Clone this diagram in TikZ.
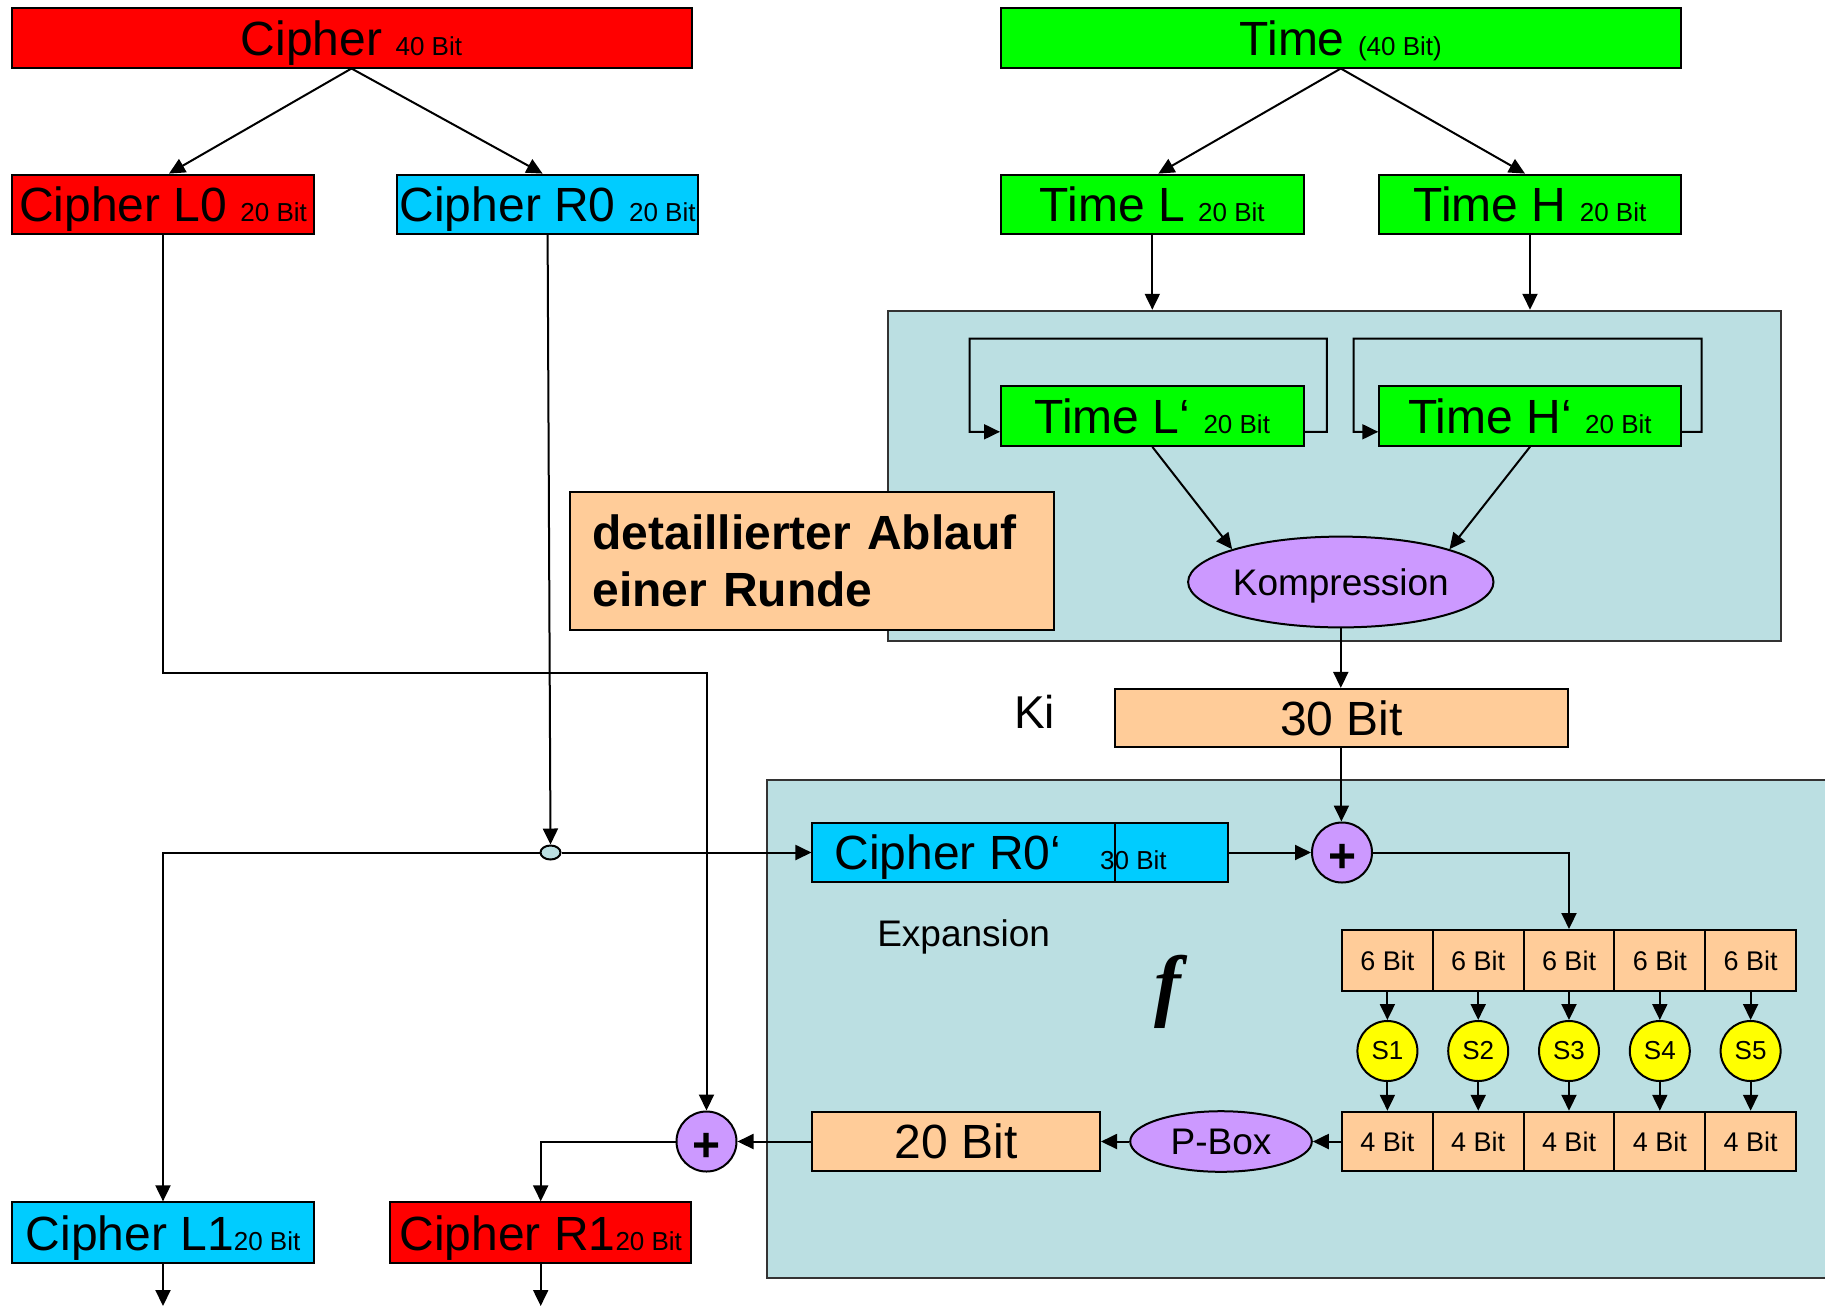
\documentclass[tikz,border=0pt]{standalone}
\usepackage{fontspec}
\setmainfont{Liberation Sans}
\newfontfamily\serifbi{Liberation Serif}
\usetikzlibrary{arrows.meta,shapes.geometric}
\definecolor{cred}{HTML}{FF0000}
\definecolor{ccyan}{HTML}{00CCFF}
\definecolor{cgreen}{HTML}{00FF00}
\definecolor{cpeach}{HTML}{FFCC99}
\definecolor{cpanel}{HTML}{BBDFE2}
\definecolor{cpurple}{HTML}{CC99FF}
\definecolor{cyellow}{HTML}{FFFF00}
\newcommand{\fsL}{\fontsize{24pt}{28.5pt}\selectfont}
\newcommand{\fsS}{\fontsize{13pt}{15pt}\selectfont}
\newcommand{\fsX}{\fontsize{13.5pt}{16pt}\selectfont}
\newcommand{\fsM}{\fontsize{18.5pt}{22pt}\selectfont}
\begin{document}
\begin{tikzpicture}[x=0.5pt,y=-0.5pt,
  box/.style={draw=black, line width=1pt, inner sep=0pt, minimum height=29.7pt, text depth=0pt},
  notebox/.style={draw=black, line width=1pt, fill=cpeach, inner sep=0pt},
  conn/.style={line width=1pt, -{Triangle[length=8pt,width=7.5pt]}},
  panel/.style={draw=black!80, line width=1pt, fill=cpanel, inner sep=0pt},
  circ/.style={circle, draw, line width=1pt, inner sep=0pt, minimum size=30pt},
  plus/.style={circ, fill=cpurple, font=\fsL\bfseries, text depth=0pt, text height=20pt},
  ell/.style={ellipse, draw, line width=1pt, inner sep=0pt, fill=cpurple, text depth=0pt}
]
\path[use as bounding box] (0,0) rectangle (1825,1308);
\clip (0,0) rectangle (1825,1308);

% panels
\node[panel, minimum width=446.4pt, minimum height=165.25pt] (panelT) at (1334.4,476) {};
\node[panel, minimum width=534pt, minimum height=249.1pt] (panelB) at (1301,1028.9) {};

% top boxes
\node[box, fill=cred, minimum width=340pt] (cipher) at (351.5,37.8) {{\fsL Cipher }{\fsS 40 Bit}};
\node[box, fill=cred, minimum width=151.3pt] (L0) at (163,204.3) {{\fsL Cipher L0 }{\fsS 20 Bit}};
\node[box, fill=ccyan, minimum width=150.7pt] (R0) at (547.6,204.3) {{\fsL Cipher R0 }{\fsS 20 Bit}};
\node[box, fill=cgreen, minimum width=340pt] (time) at (1340.8,37.8) {{\fsL Time }{\fsS (40 Bit)}};
\node[box, fill=cgreen, minimum width=151.3pt] (TL) at (1152.3,204.3) {{\fsL Time L }{\fsS 20 Bit}};
\node[box, fill=cgreen, minimum width=150.75pt] (TH) at (1530,204.3) {{\fsL Time H }{\fsS 20 Bit}};

% key schedule panel
\node[box, fill=cgreen, minimum width=151.3pt] (TLp) at (1152.3,416.1) {{\fsL Time L‘ }{\fsS 20 Bit}};
\node[box, fill=cgreen, minimum width=150.75pt] (THp) at (1530,416.1) {{\fsL Time H‘ }{\fsS 20 Bit}};
\node[ell, minimum width=151pt, minimum height=45.4pt, font=\fsM] (komp) at (1340.8,582) {Kompression};

\node[notebox, minimum height=68.7pt, text width=220pt, inner xsep=11pt, align=left, font=\fsL\bfseries] (detail) at (812.4,561) {detaillierter Ablauf\\einer Runde};

\node[font=\fontsize{23pt}{27pt}\selectfont] (ki) at (1034.7,712.3) {Ki};
\node[box, fill=cpeach, minimum width=226.4pt, minimum height=29.1pt, font=\fsL] (k30) at (1341.4,718) {30 Bit};

% f function
\node[box, fill=ccyan, minimum height=29.65pt, minimum width=207.75pt] (R0p) at (1020.2,852.5) {\makebox[185.75pt][l]{{\fsL Cipher R0‘}\hspace{19.5pt}{\fsS 30 Bit}}};
\draw[line width=0.8pt] (1115,822.9) -- (1115,882.1);
\node[plus] (plusT) at (1342,852.5) {+};
\node[font=\fsM, text depth=0pt] (expan) at (963.7,933.5) {Expansion};
\node[font=\serifbi\bfseries\itshape\fontsize{40pt}{44pt}\selectfont] (ff) at (1168,992) {f};

\foreach \i/\x in {1/1387.4,2/1478.2,3/1569,4/1659.8,5/1750.6} {
  \node[box, fill=cpeach, minimum width=45.4pt, minimum height=30.25pt, font=\fsX] (six\i) at (\x,960.25) {6 Bit};
  \node[circ, fill=cyellow, font=\fsS] (s\i) at (\x,1051) {S\i};
  \node[box, fill=cpeach, minimum width=45.4pt, minimum height=29.75pt, font=\fsX] (four\i) at (\x,1141.5) {4 Bit};
  \draw[conn] (six\i) -- (s\i);
  \draw[conn] (s\i) -- (four\i);
}
\node[ell, minimum width=90.8pt, minimum height=30.3pt, font=\fsM] (pbox) at (1221,1141.5) {P-Box};
\node[box, fill=cpeach, minimum width=143.8pt, minimum height=29.75pt, font=\fsL] (b20) at (956.2,1141.5) {20 Bit};
\node[plus] (plusB) at (706.5,1141.5) {+};

% outputs
\node[box, fill=ccyan, minimum width=151.3pt, minimum height=30.25pt] (L1) at (163,1232.6) {{\fsL Cipher L1}{\fsS 20 Bit}};
\node[box, fill=cred, minimum width=150.7pt, minimum height=30.25pt] (R1) at (540.7,1232.6) {{\fsL Cipher R1}{\fsS 20 Bit}};
\node[ellipse, draw, line width=1pt, fill=cpanel, minimum width=10pt, minimum height=7pt, inner sep=0pt] (junc) at (550.5,852.5) {};
\coordinate (endL1) at (163,1306);
\coordinate (endR1) at (540.7,1306);

% connectors
\draw[conn] (cipher.south) -- ([xshift=3pt]L0.north);
\draw[conn] (cipher.south) -- ([xshift=-2.5pt]R0.north);
\draw[conn] (time.south) -- ([xshift=3pt]TL.north);
\draw[conn] (time.south) -- ([xshift=-2.5pt]TH.north);
\draw[conn] (TL.south) -- (TL.south |- panelT.north);
\draw[conn] (TH.south) -- (TH.south |- panelT.north);
\draw[conn] ([yshift=-7.85pt]TLp.east) -| (1326.8,338.7) -| (969.5,431.8) -- ([yshift=-7.85pt]TLp.west);
\draw[conn] ([yshift=-7.85pt]THp.east) -| (1701.6,338.7) -| (1353.6,431.8) -- ([yshift=-7.85pt]THp.west);
\draw[conn] (TLp.south) -- (komp.north west);
\draw[conn] (THp.south) -- (komp.north east);
\draw[conn] (komp.south) -- (komp.south |- k30.north);
\draw[conn] (k30.south) -- (k30.south |- plusT.north);
\draw[conn] (R0p.east) -- (plusT.west);
\draw[conn] (plusT.east) -| (six3.north);
\draw[conn] (R0.south) -- (junc.north);
\draw[conn] (junc.east) -- (R0p.west);
\draw[conn] (junc.west) -| (L1.north);
\draw[conn] (L0.south) |- (706.5,672.7) -- (plusB.north);
\draw[conn] (four1.west) -- (pbox.east);
\draw[conn] (pbox.west) -- (b20.east);
\draw[conn] (b20.west) -- (plusB.east);
\draw[conn] (plusB.west) -| (R1.north);
\draw[conn] (L1.south) -- (endL1);
\draw[conn] (R1.south) -- (endR1);
\end{tikzpicture}
\end{document}
